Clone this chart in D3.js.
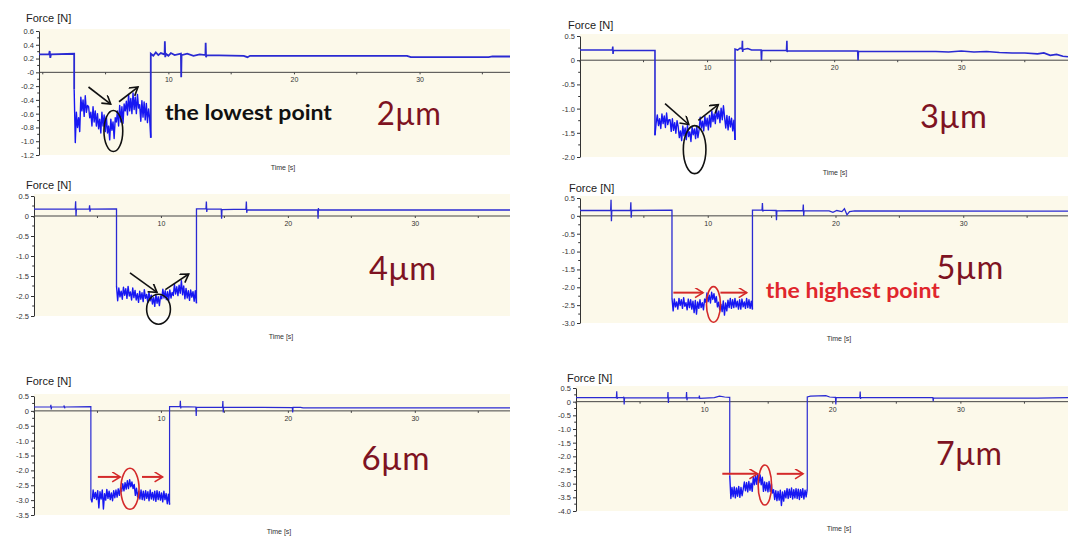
<!DOCTYPE html>
<html><head><meta charset="utf-8">
<script src="https://cdn.jsdelivr.net/npm/d3@7"></script>
<style>body{margin:0;background:#fff}svg{display:block}</style>
</head><body>
<svg id="chart" width="1072" height="538"></svg>
<script>
// ---------- DATA ----------
const depthLabels = ["2µm","3µm","4µm","5µm","6µm","7µm"];
const xTicks = [10,20,30];
const xTickLabels = ["10","20","30"];
const xMinorTicks = [0,5,15,25,35];

const p1YTicks = [0.6,0.4,0.2,0,-0.2,-0.4,-0.6,-0.8,-1.0,-1.2];
const p1YLabels = ["0.6","0.4","0.2","-0","-0.2","-0.4","-0.6","-0.8","-1.0","-1.2"];
const p2YTicks = [0.5,0,-0.5,-1.0,-1.5,-2.0];
const p2YLabels = ["0.5","0","-0.5","-1.0","-1.5","-2.0"];
const p3YTicks = [0.5,0,-0.5,-1.0,-1.5,-2.0,-2.5];
const p3YLabels = ["0.5","0","-0.5","-1.0","-1.5","-2.0","-2.5"];
const p4YTicks = [0.5,0,-0.5,-1.0,-1.5,-2.0,-2.5,-3.0];
const p4YLabels = ["0.5","0","-0.5","-1.0","-1.5","-2.0","-2.5","-3.0"];
const p5YTicks = [0.5,0,-0.5,-1.0,-1.5,-2.0,-2.5,-3.0,-3.5];
const p5YLabels = ["0.5","0","-0.5","-1.0","-1.5","-2.0","-2.5","-3.0","-3.5"];
const p6YTicks = [0.5,0,-0.5,-1.0,-1.5,-2.0,-2.5,-3.0,-3.5,-4.0];
const p6YLabels = ["0.5","0","-0.5","-1.0","-1.5","-2.0","-2.5","-3.0","-3.5","-4.0"];

// force [N] vs time [s]: baseline before contact, contact (noisy) segment, baseline after
const p1Pre = [[-0.3,0.26],[0.5,0.26],[0.55,0.31],[0.6,0.21],[0.65,0.26],[2.5,0.27]];
const p1LowT = [2.5,8.6];
const p1Low = [-0.25,-1.02,-0.58,-0.80,-0.66,-0.86,-0.36,-0.56,-0.40,-0.64,-0.34,-0.58,-0.48,-0.50,-0.66,-0.58,-0.78,-0.50,-0.72,-0.56,
  -0.78,-0.60,-0.82,-0.68,-0.88,-0.58,-0.78,-0.62,-0.86,-0.64,-0.88,-0.78,-0.98,-0.68,-0.84,-0.72,-0.96,-0.66,-0.72,-0.56,
  -0.78,-0.48,-0.72,-0.50,-0.74,-0.46,-0.56,-0.42,-0.62,-0.32,-0.56,-0.38,-0.60,-0.30,-0.54,-0.36,-0.60,-0.32,-0.52,-0.47,
  -0.71,-0.41,-0.65,-0.43,-0.69,-0.45,-0.73,-0.53,-0.67,-0.95];
const p1Post = [[8.6,0.27],[8.8,0.24],[9.0,0.29],[9.2,0.25],[9.4,0.28],[9.7,0.26],[9.72,0.45],[9.75,0.22],[9.8,0.27],[10.0,0.24],[10.2,0.28],
  [10.5,0.25],[11.0,0.27],[11.02,-0.07],[11.05,0.25],[11.5,0.27],[12.0,0.24],[12.5,0.26],[12.95,0.25],[12.97,0.43],[13.0,0.22],[13.05,0.25],
  [16.0,0.24],[16.3,0.22],[16.5,0.24],[29.0,0.24],[29.3,0.22],[35.5,0.22],[35.8,0.23],[37.2,0.23]];

const p2Pre = [[0,0.21],[2.55,0.21],[2.58,0.28],[2.6,0.13],[2.63,0.2],[5.9,0.2]];
const p2LowT = [5.9,12.2];
const p2Low = [-1.55,-1.30,-1.13,-1.35,-1.21,-1.41,-1.11,-1.31,-1.15,-1.39,-1.09,-1.33,-1.23,-1.23,-1.47,-1.21,-1.45,-1.29,-1.51,-1.25,
  -1.38,-1.60,-1.46,-1.66,-1.36,-1.56,-1.40,-1.64,-1.34,-1.58,-1.48,-1.68,-1.38,-1.54,-1.42,-1.62,-1.36,-1.60,-1.44,-1.18,
  -1.40,-1.26,-1.46,-1.16,-1.36,-1.20,-1.44,-1.14,-1.38,-1.05,-1.27,-1.11,-1.31,-1.01,-1.21,-1.05,-1.29,-0.99,-1.23,-0.94,
  -1.18,-1.40,-1.14,-1.44,-1.16,-1.38,-1.20,-1.46,-1.24,-1.65];
const p2Post = [[12.2,0.23],[12.4,0.21],[12.6,0.25],[12.75,0.23],[12.78,0.4],[12.8,0.17],[12.83,0.22],[13.2,0.24],[13.5,0.21],[14.25,0.21],[14.28,0.0],
  [14.31,0.2],[16.25,0.2],[16.28,0.4],[16.3,0.17],[16.33,0.19],[21.85,0.19],[21.88,0.0],[21.91,0.18],[28,0.18],[29,0.17],[30,0.19],[31,0.17],
  [32,0.18],[33,0.16],[34,0.15],[35,0.15],[36,0.13],[36.5,0.15],[37,0.1],[37.5,0.12],[38,0.08],[38.4,0.07]];

const p3Pre = [[0,0.17],[3.25,0.17],[3.28,0.37],[3.31,0.0],[3.34,0.17],[4.35,0.17],[4.38,0.27],[4.41,0.11],[4.44,0.17],[6.5,0.18]];
const p3LowT = [6.5,12.8];
const p3Low = [-1.75,-2.12,-1.80,-2.02,-1.88,-2.08,-1.78,-1.98,-1.82,-2.06,-1.76,-2.00,-1.90,-2.10,-1.80,-2.04,-1.86,-2.10,-1.94,-2.16,
  -1.88,-2.08,-1.92,-2.14,-1.84,-2.06,-1.96,-2.16,-1.90,-2.12,-1.98,-2.20,-2.04,-2.26,-1.96,-2.18,-2.02,-2.24,-2.00,-2.07,
  -1.83,-2.05,-1.87,-2.09,-1.89,-2.11,-1.85,-2.05,-1.91,-1.99,-1.71,-1.95,-1.77,-1.99,-1.73,-1.93,-1.62,-1.97,-1.75,-2.07,
  -1.81,-2.05,-1.87,-2.11,-1.85,-2.03,-1.89,-2.13,-1.87,-2.18];
const p3Post = [[12.8,0.18],[13.55,0.18],[13.58,0.36],[13.61,0.1],[13.64,0.18],[14.75,0.17],[14.78,-0.07],[14.81,0.16],[16.7,0.17],[16.73,0.36],
  [16.76,0.08],[16.79,0.15],[22.35,0.15],[22.38,-0.07],[22.41,0.2],[22.44,0.15],[37.5,0.15]];

const p4Pre = [[0,0.15],[2.4,0.15],[2.43,0.45],[2.46,-0.15],[2.49,0.15],[3.95,0.15],[3.98,0.38],[4.01,-0.05],[4.04,0.15],[7.2,0.16]];
const p4LowT = [7.2,13.5];
const p4Low = [-2.30,-2.66,-2.33,-2.55,-2.41,-2.61,-2.31,-2.51,-2.35,-2.59,-2.29,-2.53,-2.43,-2.63,-2.33,-2.57,-2.35,-2.61,-2.39,-2.71,
  -2.37,-2.75,-2.41,-2.59,-2.35,-2.57,-2.43,-2.63,-2.33,-2.42,-2.16,-2.40,-2.22,-2.44,-2.14,-2.34,-2.18,-2.42,-2.26,-2.55,
  -2.42,-2.64,-2.48,-2.68,-2.38,-2.78,-2.44,-2.66,-2.36,-2.57,-2.31,-2.59,-2.35,-2.57,-2.31,-2.55,-2.39,-2.61,-2.35,-2.61,
  -2.33,-2.55,-2.41,-2.59,-2.31,-2.57,-2.35,-2.59,-2.39,-2.62];
const p4Post = [[13.5,0.16],[14.25,0.16],[14.28,0.36],[14.31,0.12],[14.34,0.16],[15.35,0.15],[15.38,-0.12],[15.41,0.14],[17.45,0.15],[17.48,0.32],
  [17.51,0.0],[17.54,0.14],[19.5,0.14],[19.8,0.1],[20.1,0.15],[20.5,0.12],[20.7,0.2],[20.9,0.03],[21.1,0.12],[21.5,0.14],[38.2,0.13]];

const p5Pre = [[0,0.13],[1.3,0.13],[1.33,0.2],[1.36,0.05],[1.39,0.13],[2.35,0.13],[2.38,0.18],[2.41,0.09],[2.44,0.13],[4.48,0.14]];
const p5LowT = [4.48,10.68];
const p5Low = [-2.95,-3.06,-2.66,-2.94,-2.74,-2.98,-2.68,-3.26,-2.72,-2.96,-2.66,-3.30,-2.78,-3.00,-2.64,-2.94,-2.70,-2.98,-2.76,-3.02,
  -2.68,-2.92,-2.66,-2.90,-2.62,-2.84,-2.58,-2.71,-2.45,-2.69,-2.41,-2.63,-2.35,-2.61,-2.31,-2.55,-2.39,-2.61,-2.47,-2.84,
  -2.60,-2.90,-2.70,-2.96,-2.66,-2.98,-2.70,-3.00,-2.68,-2.94,-2.72,-3.02,-2.66,-2.96,-2.74,-3.00,-2.70,-3.04,-2.68,-2.98,
  -2.72,-3.00,-2.76,-3.06,-2.70,-2.98,-2.78,-3.12,-2.80,-3.15];
const p5Post = [[10.68,0.14],[11.5,0.14],[11.53,0.34],[11.56,0.08],[11.59,0.14],[12.75,0.13],[12.78,-0.17],[12.81,0.12],[14.85,0.12],[14.88,0.33],
  [14.91,-0.05],[14.94,0.12],[18,0.12],[20.35,0.11],[20.38,-0.05],[20.41,0.12],[21,0.12],[21.2,0.1],[37.5,0.1]];

const p6Pre = [[0,0.15],[3.15,0.15],[3.18,0.38],[3.21,0.1],[3.24,0.15],[3.7,0.15],[3.73,0.18],[3.76,-0.1],[3.79,0.14],[7.15,0.14],[7.18,0.35],
  [7.21,-0.05],[7.24,0.14],[8.6,0.14],[8.63,0.35],[8.66,0.05],[8.69,0.14],[9.6,0.14],[9.63,0.22],[9.66,0.12],[10.8,0.15],[11.2,0.2],[11.6,0.17],[12.0,0.16]];
const p6LowT = [12.0,18.05];
const p6Low = [-2.70,-3.54,-3.14,-3.48,-3.12,-3.52,-3.16,-3.46,-3.10,-3.50,-3.14,-3.44,-3.20,-2.94,-3.26,-2.96,-3.30,-2.92,-3.24,-2.98,
  -3.28,-2.74,-3.04,-2.70,-3.02,-2.64,-2.96,-2.68,-3.04,-2.76,-3.28,-2.94,-3.26,-2.96,-3.30,-2.92,-3.28,-3.00,-3.34,-3.22,
  -3.58,-3.26,-3.62,-3.28,-3.60,-3.24,-3.80,-3.30,-3.64,-3.26,-3.52,-3.18,-3.54,-3.20,-3.50,-3.16,-3.56,-3.22,-3.52,-3.18,
  -3.54,-3.20,-3.58,-3.22,-3.50,-3.18,-3.56,-3.24,-3.48,-3.20];
const p6Post = [[18.05,0.17],[18.3,0.2],[19.5,0.22],[19.8,0.17],[20.25,0.16],[20.28,-0.1],[20.31,0.15],[22.15,0.15],[22.18,0.37],[22.21,0.1],
  [22.24,0.15],[27.85,0.15],[27.88,0.02],[27.91,0.13],[36,0.13],[38.4,0.15]];

// ---------- LAYOUT (pixels) ----------
const layouts = [
  {x0:39, x1:510, y0:31, y1:155, xd:[-0.3,37.2], yd:[0.6,-1.2], minor:0.1, fx:26, fy:22, tx:283, ty:170, lw:1.8},
  {x0:580, x1:1068, y0:36, y1:157, xd:[0,38.4], yd:[0.5,-2.0], minor:0.25, fx:568, fy:29, tx:835, ty:175, lw:1.6},
  {x0:34, x1:510, y0:196, y1:316, xd:[0,37.5], yd:[0.5,-2.5], minor:0.25, fx:26, fy:189, tx:281, ty:339, lw:1.3},
  {x0:580, x1:1068, y0:198, y1:323, xd:[0,38.2], yd:[0.5,-3.0], minor:0.25, fx:569, fy:192, tx:839, ty:341, lw:1.3},
  {x0:34, x1:510, y0:396, y1:515, xd:[0,37.5], yd:[0.5,-3.5], minor:0.25, fx:26, fy:385, tx:279, ty:534, lw:1.2},
  {x0:576, x1:1068, y0:388, y1:511, xd:[0,38.4], yd:[0.5,-4.0], minor:0.25, fx:567, fy:382, tx:839, ty:531, lw:1.2}
];

// annotations in data coordinates (time, force)
const annotations = [
  {color:"#111", arrows:[[3.64,-0.213,5.41,-0.460],[6.07,-0.427,7.58,-0.213]], ell:[5.62,-0.852,9.4,20.5],
   note:"the lowest point", noteAt:[9.73,-0.69], noteW:167, noteColor:"#111", depthAt:[26.6,-0.765], depthW:64},
  {color:"#111", arrows:[[6.69,-0.897,8.56,-1.329],[9.31,-1.242,10.88,-0.917]], ell:[9.02,-1.847,11.3,24],
   note:null, depthAt:[26.75,-1.409], depthW:67},
  {color:"#111", arrows:[[7.56,-1.42,9.69,-1.91],[10.35,-1.84,12.19,-1.45]], ell:[9.81,-2.33,11.9,15],
   note:null, depthAt:[26.4,-1.61], depthW:67},
  {color:"#d42a2a", arrows:[[7.31,-2.15,9.63,-2.15],[10.99,-2.15,13.05,-2.15]], ell:[10.45,-2.48,7,17.8],
   note:"the highest point", noteAt:[14.55,-2.30], noteW:174, noteColor:"#e0262c", depthAt:[27.9,-1.78], depthW:67},
  {color:"#d42a2a", arrows:[[5.03,-2.22,6.79,-2.22],[8.51,-2.22,10.13,-2.22]], ell:[7.56,-2.62,9.1,20.5],
   note:null, depthAt:[25.8,-1.98], depthW:68},
  {color:"#d42a2a", arrows:[[11.42,-2.64,14.16,-2.64],[15.67,-2.64,17.72,-2.64]], ell:[14.74,-3.05,6.7,20],
   note:null, depthAt:[28.1,-2.32], depthW:66}
];

const panelData = [
  [p1Pre,p1LowT,p1Low,p1Post,p1YTicks,p1YLabels],
  [p2Pre,p2LowT,p2Low,p2Post,p2YTicks,p2YLabels],
  [p3Pre,p3LowT,p3Low,p3Post,p3YTicks,p3YLabels],
  [p4Pre,p4LowT,p4Low,p4Post,p4YTicks,p4YLabels],
  [p5Pre,p5LowT,p5Low,p5Post,p5YTicks,p5YLabels],
  [p6Pre,p6LowT,p6Low,p6Post,p6YTicks,p6YLabels]
];

// ---------- DRAW ----------
const svg = d3.select("#chart");
const defs = svg.append("defs");
function marker(id, color){
  defs.append("marker").attr("id",id).attr("markerUnits","userSpaceOnUse")
    .attr("markerWidth",12).attr("markerHeight",12).attr("refX",9).attr("refY",5).attr("orient","auto")
    .append("path").attr("d","M1,0 L9,5 L1,10").attr("fill","none").attr("stroke",color).attr("stroke-width",1.6);
}
marker("ahBlack","#111");
marker("ahRed","#d42a2a");

const tickFont = "Liberation Sans, Arial, sans-serif";

panelData.forEach((pd, k) => {
  const [pre, lowT, low, post, yT, yL] = pd;
  const L = layouts[k];
  const A = annotations[k];
  const x = d3.scaleLinear().domain(L.xd).range([L.x0, L.x1]);
  const y = d3.scaleLinear().domain(L.yd).range([L.y0, L.y1]);
  const g = svg.append("g");

  g.append("rect").attr("x", L.x0).attr("y", L.y0 - 2).attr("width", L.x1 - L.x0)
    .attr("height", L.y1 - L.y0 + 2).attr("fill", "#fcf9ea");

  // y axis
  const yAxis = d3.axisLeft(y).tickValues(yT).tickFormat((d,i)=>yL[i]).tickSize(3).tickSizeOuter(0).tickPadding(2);
  const ya = g.append("g").attr("transform", `translate(${L.x0},0)`).call(yAxis);
  ya.select(".domain").attr("stroke","#333");
  ya.selectAll(".tick line").attr("stroke","#333");
  ya.selectAll("text").attr("font-family", tickFont).attr("font-size", 7.5).attr("fill","#333");
  const minorVals = d3.range(Math.round(L.yd[1]/L.minor), Math.round(L.yd[0]/L.minor)+1).map(v=>v*L.minor)
    .filter(v => !yT.some(t => Math.abs(t - v) < 1e-6));
  g.append("g").selectAll("line").data(minorVals).join("line")
    .attr("x1", L.x0 - 1.8).attr("x2", L.x0).attr("y1", d=>y(d)).attr("y2", d=>y(d)).attr("stroke","#333");

  // zero line with time ticks
  const xAxis = d3.axisBottom(x).tickValues(xTicks).tickFormat((d,i)=>xTickLabels[i]).tickSize(2).tickSizeOuter(0).tickPadding(3);
  const xa = g.append("g").attr("transform", `translate(0,${y(0)})`).call(xAxis);
  xa.select(".domain").attr("stroke","#444").attr("d", `M${L.x0},0H${L.x1}`);
  xa.selectAll(".tick line").attr("stroke","#444");
  xa.selectAll("text").attr("font-family", tickFont).attr("font-size", 7).attr("fill","#333");
  g.append("g").selectAll("line").data(xMinorTicks.filter(v => v >= L.xd[0] && v <= L.xd[1])).join("line")
    .attr("x1", d=>x(d)).attr("x2", d=>x(d)).attr("y1", y(0)).attr("y2", y(0)+2).attr("stroke","#444");

  // force signal
  const n = low.length;
  const lowPts = low.map((v,i) => [lowT[0] + (lowT[1]-lowT[0]) * i / (n-1), v]);
  const line = d3.line().x(d=>x(d[0])).y(d=>y(d[1]));
  g.append("path").datum(pre.concat(lowPts.slice(0,1))).attr("d", line).attr("fill","none")
    .attr("stroke","#2a2ad2").attr("stroke-width",L.lw);
  g.append("path").datum(lowPts.slice(-1).concat(post)).attr("d", line).attr("fill","none")
    .attr("stroke","#2a2ad2").attr("stroke-width",L.lw);
  g.append("path").datum(lowPts).attr("d", line).attr("fill","none")
    .attr("stroke","#1717f2").attr("stroke-width",1.4).attr("stroke-linejoin","round");

  // labels
  g.append("text").attr("x", L.fx).attr("y", L.fy).text("Force [N]")
    .attr("font-family", tickFont).attr("font-size", 11).attr("fill","#222");
  g.append("text").attr("x", L.tx).attr("y", L.ty).attr("text-anchor","middle").text("Time [s]")
    .attr("font-family", tickFont).attr("font-size", 7).attr("fill","#333");

  // annotations
  const mk = A.color === "#111" ? "url(#ahBlack)" : "url(#ahRed)";
  A.arrows.forEach(a => {
    g.append("line").attr("x1", x(a[0])).attr("y1", y(a[1])).attr("x2", x(a[2])).attr("y2", y(a[3]))
      .attr("stroke", A.color).attr("stroke-width", A.color === "#111" ? 1.6 : 2).attr("marker-end", mk);
  });
  g.append("ellipse").attr("cx", x(A.ell[0])).attr("cy", y(A.ell[1])).attr("rx", A.ell[2]).attr("ry", A.ell[3])
    .attr("fill","none").attr("stroke", A.color).attr("stroke-width", 1.6);
  if (A.note) {
    g.append("text").attr("x", x(A.noteAt[0])).attr("y", y(A.noteAt[1])).text(A.note)
      .attr("font-family","Lato, 'Open Sans', sans-serif").attr("font-weight",700).attr("font-size",21)
      .attr("fill", A.noteColor).attr("textLength", A.noteW).attr("lengthAdjust","spacingAndGlyphs");
  }
  g.append("text").attr("x", x(A.depthAt[0])).attr("y", y(A.depthAt[1])).text(depthLabels[k])
    .attr("font-family","Lato, 'Open Sans', sans-serif").attr("font-size",33)
    .attr("fill","#7e1322").attr("textLength", A.depthW).attr("lengthAdjust","spacingAndGlyphs");
});
</script>
</body></html>
